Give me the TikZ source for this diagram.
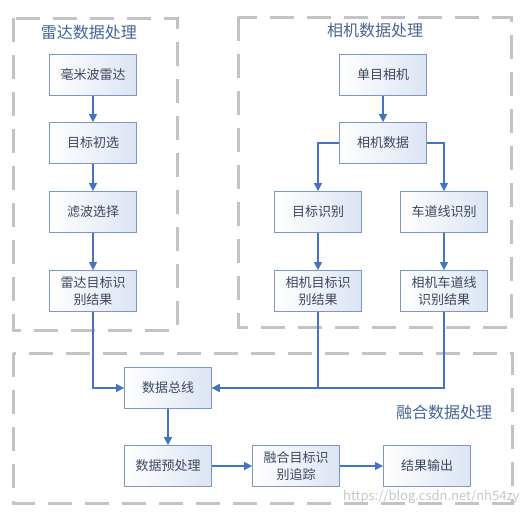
\documentclass[tikz,border=0pt]{standalone}
\usepackage{fontspec}
\setmainfont{Noto Sans CJK SC}
\usetikzlibrary{arrows.meta}

\definecolor{azul}{RGB}{68,114,196}
\definecolor{borda}{RGB}{125,150,195}
\definecolor{fundo}{RGB}{220,228,243}
\definecolor{texto}{RGB}{60,72,95}
\definecolor{titulo}{RGB}{70,100,150}
\definecolor{cinza}{RGB}{195,195,195}

\begin{document}
\begin{tikzpicture}[x=1pt,y=-1pt,
        caixa/.style={draw=borda, line width=0.8pt, left color=white, right color=fundo,
            minimum width=87pt, minimum height=41pt, inner sep=1pt, align=center,
            text=texto, font=\fontsize{13}{17}\selectfont},
        seta/.style={azul, line width=1.3pt, -{Triangle[length=8pt,width=8pt]}},
        grupo/.style={cinza, line width=3pt, dash pattern=on 24pt off 13pt},
        rotulo/.style={text=titulo, font=\fontsize{16}{18}\selectfont}]
            \useasboundingbox (0,0) rectangle (523,515);

            % blocos tracejados
            \draw[grupo] (13,18) rectangle (177,330);
            \draw[grupo] (238,17) rectangle (511,327);
            \draw[grupo] (13,353) rectangle (512,503);

            \node[rotulo] (tradar) at (89,32) {雷达数据处理};
            \node[rotulo] (tcamera) at (375,30) {相机数据处理};
            \node[rotulo] (tfusao) at (444,412) {融合数据处理};

            % radar
            \node[caixa] (radar) at (93,75) {毫米波雷达};
            \node[caixa] (inicial) at (93,143) {目标初选};
            \node[caixa] (filtro) at (93,212) {滤波选择};
            \node[caixa] (resradar) at (93,291) {雷达目标识\\别结果};

            % camera
            \node[caixa] (camera) at (383,75) {单目相机};
            \node[caixa] (dados) at (383,143) {相机数据};
            \node[caixa] (alvo) at (318,212) {目标识别};
            \node[caixa] (faixa) at (444,212) {车道线识别};
            \node[caixa] (resalvo) at (318,291) {相机目标识\\别结果};
            \node[caixa] (resfaixa) at (444,291) {相机车道线\\识别结果};

            % fusao
            \node[caixa] (barramento) at (168,388) {数据总线};
            \node[caixa] (preproc) at (168,466) {数据预处理};
            \node[caixa] (fusao) at (296,466) {融合目标识\\别追踪};
            \node[caixa] (saida) at (427,466) {结果输出};

            \node[anchor=east, text=gray!45, font=\fontsize{13}{15}\selectfont] (marca) at (523,497) {https://blog.csdn.net/nh54zy};

            \draw[seta] (radar) -- (inicial);
            \draw[seta] (inicial) -- (filtro);
            \draw[seta] (filtro) -- (resradar);
            \draw[seta] (camera) -- (dados);
            \draw[seta] (dados.west) -| (alvo);
            \draw[seta] (dados.east) -| (faixa);
            \draw[seta] (alvo) -- (resalvo);
            \draw[seta] (faixa) -- (resfaixa);
            \draw[seta] (resradar) |- (barramento);
            \draw[seta] (resfaixa) |- (barramento);
            \draw[seta] (resalvo) |- (barramento);
            \draw[seta] (barramento) -- (preproc);
            \draw[seta] (preproc) -- (fusao);
            \draw[seta] (fusao) -- (saida);
        \end{tikzpicture}
\end{document}
